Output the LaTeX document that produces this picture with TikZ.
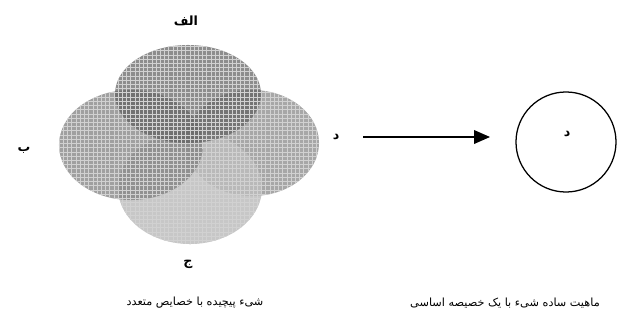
\documentclass[tikz,border=0pt]{standalone}
\usepackage{fontspec}
\usepackage{tikz}
\usetikzlibrary{positioning,arrows.meta,patterns,shapes.geometric}
\newfontfamily\arabicfont[Script=Arabic]{DejaVu Sans}
\TeXXeTstate=1
\definecolor{setalef}{gray}{0.38}
\definecolor{setbe}{gray}{0.50}
\definecolor{setdal}{gray}{0.57}
\definecolor{setjim}{gray}{0.74}
\tikzset{
  blob/.style={ellipse, inner sep=0pt, draw=none, fill opacity=0.8,
    postaction={pattern=grid, pattern color=black!18}},
  setlbl/.style={font=\arabicfont\small\bfseries, inner sep=1pt},
  caption/.style={font=\arabicfont\footnotesize, inner sep=1pt}
}

\begin{document}
\begin{tikzpicture}[x=0.025cm,y=-0.025cm]
\useasboundingbox (0,0) rectangle (624,329);

% complex object: four overlapping property sets
\node[blob, fill=setdal, minimum width=3.35cm, minimum height=2.65cm] (dal) at (252,143) {};
\node[blob, fill=setjim, fill opacity=0.85, minimum width=3.6cm, minimum height=2.8cm] (jim) at (190,188) {};
\node[blob, fill=setbe, fill opacity=0.75, minimum width=3.6cm, minimum height=2.75cm] (be) at (131,145) {};
\node[blob, fill=setalef, fill opacity=0.72, minimum width=3.65cm, minimum height=2.45cm] (alef) at (188,94) {};

\node[setlbl] (alefl) at (186,21) {\beginR الف\endR};
\node[setlbl] (bel) at (24,150) {\beginR ب\endR};
\node[setlbl] (jiml) at (188,264) {\beginR ج\endR};
\node[setlbl] (dall) at (336,137) {\beginR د\endR};

% simple essence
\node[circle, draw, line width=0.9pt, minimum size=2.5cm] (essence) at (566,142) {};
\node[setlbl] (essl) at (567,134) {\beginR د\endR};

\draw[line width=1.2pt, -{Triangle[length=4mm,width=3.4mm]}, shorten <=16pt, shorten >=18pt] (dall.east) -- (essence.west |- dall.east);

\node[caption] (complex) at (195,303) {\beginR شیء پیچیده با خصایص متعدد\endR};
\node[caption] (simple) at (505,303) {\beginR ماهیت ساده شیء با یک خصیصه اساسی\endR};
\end{tikzpicture}
\end{document}
